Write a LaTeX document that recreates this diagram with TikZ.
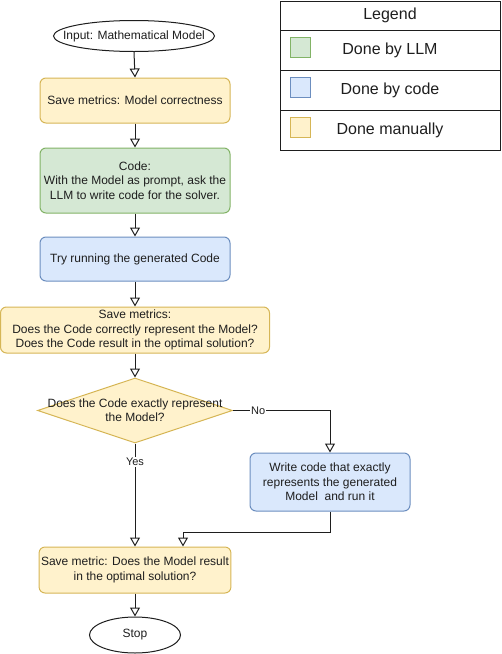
\documentclass[tikz,border=0pt]{standalone}
\usepackage{fontspec}
\setmainfont{Liberation Sans}
\usepackage{tikz}
\usetikzlibrary{positioning,shapes.geometric,arrows.meta,calc}
\definecolor{ink}     {HTML}{1E1E1E}
\definecolor{llmfill} {HTML}{D5E8D4}
\definecolor{llmline} {HTML}{82B366}
\definecolor{codefill}{HTML}{DAE8FC}
\definecolor{codeline}{HTML}{6C8EBF}
\definecolor{manfill} {HTML}{FFF2CC}
\definecolor{manline} {HTML}{D6B656}
\tikzset{
  every node/.style={font=\fontsize{12}{14.4}\selectfont, text=ink},
  % --- nodes
  proc/.style  = {rounded corners=6pt, align=center, inner sep=2pt, line width=1pt,
                  minimum width=190pt, minimum height=45pt},
  llm/.style   = {proc, draw=llmline, fill=llmfill},
  code/.style  = {proc, draw=codeline, fill=codefill},
  man/.style   = {proc, draw=manline, fill=manfill},
  term/.style  = {ellipse, draw=ink, fill=white, line width=1pt, inner sep=0pt},
  dec/.style   = {diamond, draw=manline, fill=manfill, line width=1pt, inner sep=0pt},
  lbl/.style   = {fill=white, inner sep=1pt, font=\fontsize{11}{13}\selectfont},
  % --- legend
  leg/.style   = {draw=ink, line width=1pt, outer sep=0pt, minimum width=220pt,
                  font=\fontsize{16}{19}\selectfont},
  swatch/.style= {minimum size=20pt, inner sep=0pt, line width=1pt},
  % --- edges
  e/.style     = {-{Triangle[open,length=9pt,width=10pt]}, line width=1pt, draw=ink},
}
\begin{document}
\begin{tikzpicture}[x=1pt,y=-1pt]
  \useasboundingbox (0,0) rectangle (502,654);
  % flow
  \node[term, minimum width=161pt, minimum height=31pt] (in) at (134,36) {};
  \node (in-t) at (in) {Input: Mathematical Model};
  \node[man] (m1) at (135,100.5) {Save metrics: Model correctness};
  \node[llm, minimum height=65pt] (g1) at (135,180.5)
    {Code:\\With the Model as prompt, ask the\\LLM to write code for the solver.};
  \node[code, minimum height=44pt] (c1) at (135,259) {Try running the generated Code};
  \node[man, minimum width=269pt, minimum height=46pt] (m2) at (135,330)
    {Save metrics:\\Does the Code correctly represent the Model?\\Does the Code result in the optimal solution?};
  \node[dec, minimum width=195pt, minimum height=65pt] (q) at (135,410.5) {};
  \node[align=center] (q-t) at (q) {Does the Code exactly represent\\the Model?};
  \node[code, minimum width=160pt, minimum height=58pt] (w) at (330,482)
    {Write code that exactly\\represents the generated\\Model\ \ and run it};
  \node[man, minimum height=46pt] (m3) at (135,570)
    {Save metric: Does the Model result\\in the optimal solution?};
  \node[term, minimum width=91pt, minimum height=36pt] (stop) at (135,635) {Stop};
  \coordinate (j) at (183,532);

  \draw[e] (in.south) -- (m1.north); \draw[e] (m1) -- (g1); \draw[e] (g1) -- (c1);
  \draw[e] (c1) -- (m2); \draw[e] (m2) -- (q.north);
  \draw[e] (q.east) -| node[lbl, pos=0.13] {No} (w.north);
  \draw[e] (q.south) -- node[lbl, pos=0.18] {Yes} (m3.north);
  \draw[e] (w.south) |- (j) -- (j |- m3.north);
  \draw[e] (m3) -- (stop);

  % legend
  \node[leg, minimum height=29pt] (lg) at (390,15.5) {Legend};
  \node[leg, minimum height=40pt, below=0pt of lg] (l1) {Done by LLM};
  \node[leg, minimum height=40pt, below=0pt of l1] (l2) {Done by code};
  \node[leg, minimum height=40pt, below=0pt of l2] (l3) {Done manually};
  \node[swatch, draw=llmline, fill=llmfill]   (s1) at (300,47.5) {};
  \node[swatch, draw=codeline, fill=codefill] (s2) at (300,87.5) {};
  \node[swatch, draw=manline, fill=manfill]   (s3) at (300,127.5) {};
\end{tikzpicture}
\end{document}
